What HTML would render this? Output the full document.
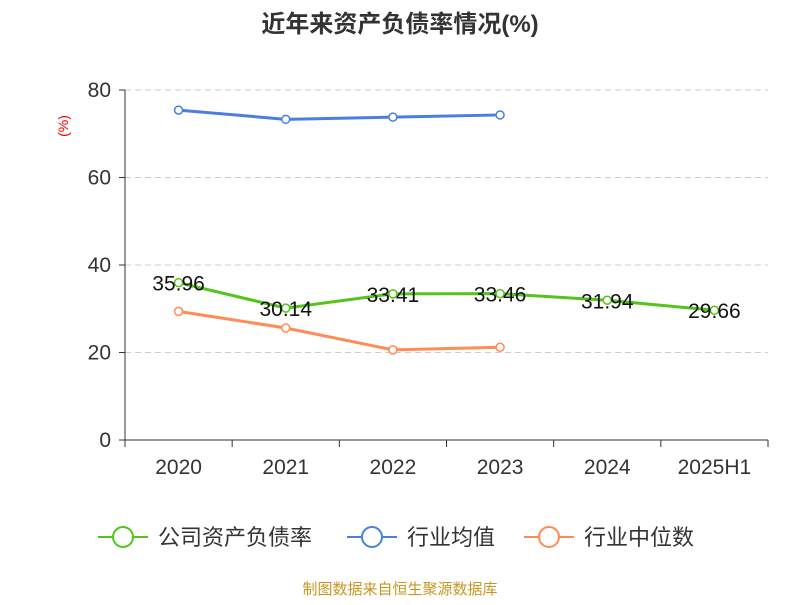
<!DOCTYPE html>
<html><head><meta charset="utf-8"><style>
body{margin:0;background:#fff;font-family:"Liberation Sans","Noto Sans CJK SC",sans-serif;}
svg text{font-family:"Liberation Sans","Noto Sans CJK SC",sans-serif;}
</style></head><body>
<svg id="chart" width="800" height="600">
<text x="400" y="32" text-anchor="middle" font-size="24" font-weight="bold" fill="#333">近年来资产负债率情况(%)</text>
<text x="68" y="126" text-anchor="middle" font-size="14" fill="#e00" transform="rotate(-90 68 126)">(%)</text>
<g id="grid"></g><g id="axes"></g><g id="series"></g>
<g>
<g><line x1="98" y1="537" x2="148" y2="537" stroke="#52c41a" stroke-width="2"/><circle cx="123" cy="537" r="10" fill="#fff" stroke="#52c41a" stroke-width="2"/><text x="158" y="545" font-size="22" fill="#333">公司资产负债率</text></g>
<g><line x1="347" y1="537" x2="397" y2="537" stroke="#4a7fdf" stroke-width="2"/><circle cx="372" cy="537" r="10" fill="#fff" stroke="#4a7fdf" stroke-width="2"/><text x="407" y="545" font-size="22" fill="#333">行业均值</text></g>
<g><line x1="524" y1="537" x2="574" y2="537" stroke="#ff8c55" stroke-width="2"/><circle cx="549" cy="537" r="10" fill="#fff" stroke="#ff8c55" stroke-width="2"/><text x="584" y="545" font-size="22" fill="#333">行业中位数</text></g>
</g>
<text x="400" y="594" text-anchor="middle" font-size="15" fill="#c8961e">制图数据来自恒生聚源数据库</text>
</svg>
<script>
const categories=["2020","2021","2022","2023","2024","2025H1"];
const companyValues=[35.96,30.14,33.41,33.46,31.94,29.66];
const industryAvg=[75.4,73.3,73.8,74.3];
const industryMedian=[29.4,25.6,20.6,21.2];
const yTicks=[0,20,40,60,80];
const NS="http://www.w3.org/2000/svg";
const x0=125,x1=768,yTop=90,yBot=440,yMax=80;
const band=(x1-x0)/categories.length;
const xs=i=>x0+band*(i+0.5);
const ys=v=>yBot-(v/yMax)*(yBot-yTop);
function mk(tag,attrs,parent){const e=document.createElementNS(NS,tag);for(const k in attrs)e.setAttribute(k,attrs[k]);parent.appendChild(e);return e;}
const grid=document.getElementById('grid'),axes=document.getElementById('axes'),ser=document.getElementById('series');
yTicks.forEach(t=>{
  if(t>0){const l=mk('line',{x1:x0,x2:x1,y1:ys(t),y2:ys(t),stroke:'#ccc','stroke-dasharray':'6,4'},grid);
  
  }
  const tk=mk('line',{x1:x0-6,x2:x0,y1:ys(t),y2:ys(t),stroke:'#333'},axes);
  
  
  const tx=mk('text',{x:x0-14,y:ys(t)+7,'text-anchor':'end','font-size':21,fill:'#333'},axes);tx.textContent=t;
  
  
});
const ya=mk('line',{x1:x0,x2:x0,y1:yTop,y2:yBot,stroke:'#333'},axes);


const xa=mk('line',{x1:x0,x2:x1,y1:yBot,y2:yBot,stroke:'#333'},axes);


for(let i=0;i<=categories.length;i++){const t=mk('line',{x1:x0+band*i,x2:x0+band*i,y1:yBot,y2:yBot+7,stroke:'#333'},axes);

}
categories.forEach((c,i)=>{const t=mk('text',{x:xs(i),y:474,'text-anchor':'middle','font-size':21,fill:'#333'},axes);t.textContent=c;

});
function drawSeries(vals,color,name,labels){
  const g=mk('g',{},ser);
  
  
  const pl=mk('polyline',{points:vals.map((v,i)=>xs(i)+','+ys(v)).join(' '),fill:'none',stroke:color,'stroke-width':3},g);
  
  
  vals.forEach((v,i)=>{const c=mk('circle',{cx:xs(i),cy:ys(v),r:4,fill:'#fff',stroke:color,'stroke-width':1.5},g);
    
    
    if(labels){const t=mk('text',{x:xs(i),y:ys(v)+8,'text-anchor':'middle','font-size':21,fill:'#111'},g);t.textContent=v.toFixed(2);
      
      }
  });
}
drawSeries(industryAvg,'#4a7fdf','industry-avg-series',false);
drawSeries(industryMedian,'#ff8c55','industry-median-series',false);
drawSeries(companyValues,'#52c41a','company-series',true);
</script>
</body></html>
